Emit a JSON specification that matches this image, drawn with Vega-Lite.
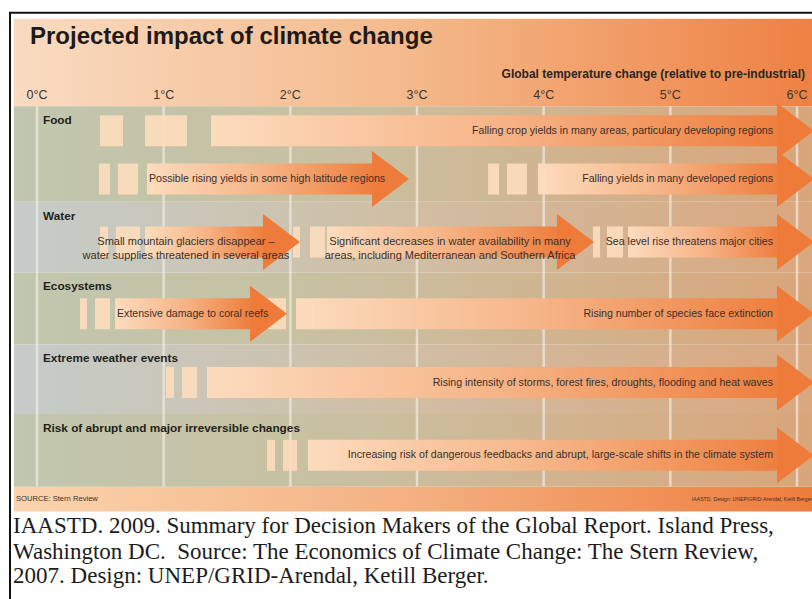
{
  "$schema": "https://vega.github.io/schema/vega-lite/v6.json",
  "width": 812,
  "height": 599,
  "autosize": {"type": "none"},
  "padding": 0,
  "background": "white",
  "config": {"view": {"stroke": null}, "font": "Liberation Sans"},
  "datasets": {
    "arrows": [
      {"cat": "Food", "lane": 128, "start": 1.374, "end": 5.842, "label": "Falling crop yields in many areas, particulary developing regions", "pos": "end"},
      {"cat": "Food", "lane": 177, "start": 0.868, "end": 2.645, "label": "Possible rising yields in some high latitude regions", "pos": "start"},
      {"cat": "Food", "lane": 177, "start": 3.955, "end": 5.842, "label": "Falling yields in many developed regions", "pos": "end"},
      {"cat": "Water", "lane": 241, "start": 0.853, "end": 1.784, "label": ["Small mountain glaciers disappear –", "water supplies threatened in several areas"], "pos": "center", "labelAt": 1.176},
      {"cat": "Water", "lane": 241, "start": 2.289, "end": 4.105, "label": ["Significant decreases in water availability in many", "areas, including Mediterranean and Southern Africa"], "pos": "center", "labelAt": 3.261},
      {"cat": "Water", "lane": 241, "start": 4.666, "end": 5.842, "label": "Sea level rise threatens major cities", "pos": "end"},
      {"cat": "Ecosystems", "lane": 314, "start": 0.616, "end": 1.682, "label": "Extensive damage to coral reefs", "pos": "start"},
      {"cat": "Ecosystems", "lane": 314, "start": 2.045, "end": 5.842, "label": "Rising number of species face extinction", "pos": "end"},
      {"cat": "Extreme weather events", "lane": 384, "start": 1.342, "end": 5.842, "label": "Rising intensity of storms, forest fires, droughts, flooding and heat waves", "pos": "end"},
      {"cat": "Risk of abrupt and major irreversible changes", "lane": 458, "start": 2.139, "end": 5.842, "label": "Increasing risk of dangerous feedbacks and abrupt, large-scale shifts in the climate system", "pos": "end"}
    ],
    "squares": [
      {"lane": 128, "start": 0.497, "end": 0.679},
      {"lane": 128, "start": 0.853, "end": 1.184},
      {"lane": 177, "start": 0.489, "end": 0.576},
      {"lane": 177, "start": 0.639, "end": 0.797},
      {"lane": 177, "start": 3.561, "end": 3.648},
      {"lane": 177, "start": 3.71, "end": 3.868},
      {"lane": 241, "start": 0.497, "end": 0.561},
      {"lane": 241, "start": 0.624, "end": 0.813},
      {"lane": 241, "start": 2.021, "end": 2.076},
      {"lane": 241, "start": 2.155, "end": 2.274},
      {"lane": 241, "start": 4.389, "end": 4.445},
      {"lane": 241, "start": 4.5, "end": 4.626},
      {"lane": 314, "start": 0.339, "end": 0.395},
      {"lane": 314, "start": 0.458, "end": 0.576},
      {"lane": 314, "start": 1.824, "end": 1.966},
      {"lane": 384, "start": 1.018, "end": 1.082},
      {"lane": 384, "start": 1.145, "end": 1.263},
      {"lane": 458, "start": 1.816, "end": 1.879},
      {"lane": 458, "start": 1.942, "end": 2.053}
    ],
    "bands": [
      {"cat": "Food", "top": 103, "bottom": 200, "tone": "green"},
      {"cat": "Water", "top": 200, "bottom": 272, "tone": "blue"},
      {"cat": "Ecosystems", "top": 272, "bottom": 345, "tone": "green"},
      {"cat": "Extreme weather events", "top": 345, "bottom": 416, "tone": "blue"},
      {"cat": "Risk of abrupt and major irreversible changes", "top": 416, "bottom": 490, "tone": "green"}
    ],
    "ticks": [
      {"t": 0, "label": "0°C"}, {"t": 1, "label": "1°C"}, {"t": 2, "label": "2°C"}, {"t": 3, "label": "3°C"},
      {"t": 4, "label": "4°C"}, {"t": 5, "label": "5°C"}, {"t": 6, "label": "6°C"}
    ],
    "caption": [
      {"line": 537, "text": "IAASTD. 2009. Summary for Decision Makers of the Global Report. Island Press,"},
      {"line": 563, "text": "Washington DC.\u00a0 Source: The Economics of Climate Change: The Stern Review,"},
      {"line": 588, "text": "2007. Design: UNEP/GRID-Arendal, Ketill Berger."}
    ]
  },
  "layer": [
    {
      "data": {"values": [{"part": "header"}]},
      "mark": {"type": "rect", "color": {"gradient": "linear", "x1": 0, "x2": 1, "y1": 0, "y2": 0, "stops": [{"offset": 0, "color": "#f9dbc1"}, {"offset": 0.5, "color": "#f4b98b"}, {"offset": 1, "color": "#ee8143"}]}},
      "encoding": {
        "x": {"datum": -0.182, "type": "quantitative", "scale": {"domain": [-0.2921, 6.1184], "nice": false, "zero": false}, "axis": null},
        "x2": {"datum": 6.1184},
        "y": {"datum": 14, "type": "quantitative", "scale": {"domain": [0, 599], "nice": false, "zero": false, "reverse": true}, "axis": null},
        "y2": {"datum": 103}
      }
    },
    {
      "data": {"values": [{"part": "footer"}]},
      "mark": {"type": "rect", "color": {"gradient": "linear", "x1": 0, "x2": 1, "y1": 0, "y2": 0, "stops": [{"offset": 0, "color": "#fad4ae"}, {"offset": 0.5, "color": "#f4b081"}, {"offset": 1, "color": "#ee7d3d"}]}},
      "encoding": {
        "x": {"datum": -0.182, "type": "quantitative", "axis": null},
        "x2": {"datum": 6.1184},
        "y": {"datum": 490, "type": "quantitative", "axis": null},
        "y2": {"datum": 515}
      }
    },
    {
      "data": {"name": "bands"},
      "transform": [{"filter": "datum.tone === 'green'"}],
      "mark": {"type": "rect", "color": {"gradient": "linear", "x1": 0, "x2": 1, "y1": 0, "y2": 0, "stops": [{"offset": 0, "color": "#c0c7ae"}, {"offset": 0.45, "color": "#cabf9f"}, {"offset": 1, "color": "#d9a57a"}]}},
      "encoding": {
        "x": {"datum": -0.182, "type": "quantitative", "axis": null},
        "x2": {"datum": 6.1184},
        "y": {"field": "top", "type": "quantitative", "axis": null},
        "y2": {"field": "bottom"}
      }
    },
    {
      "data": {"name": "bands"},
      "transform": [{"filter": "datum.tone === 'blue'"}],
      "mark": {"type": "rect", "color": {"gradient": "linear", "x1": 0, "x2": 1, "y1": 0, "y2": 0, "stops": [{"offset": 0, "color": "#c5ccc9"}, {"offset": 0.45, "color": "#cfc0a7"}, {"offset": 1, "color": "#daa77e"}]}},
      "encoding": {
        "x": {"datum": -0.182, "type": "quantitative", "axis": null},
        "x2": {"datum": 6.1184},
        "y": {"field": "top", "type": "quantitative", "axis": null},
        "y2": {"field": "bottom"}
      }
    },
    {
      "data": {"name": "ticks"},
      "mark": {"type": "rule", "color": "#f3ebe2", "opacity": 0.7, "strokeWidth": 2.5},
      "encoding": {
        "x": {"field": "t", "type": "quantitative", "axis": null},
        "y": {"datum": 103, "type": "quantitative", "axis": null},
        "y2": {"datum": 490}
      }
    },
    {
      "data": {"name": "ticks"},
      "mark": {"type": "text", "align": "center", "baseline": "middle", "fontSize": 12.5, "font": "Liberation Sans", "color": "#3a3530"},
      "encoding": {
        "x": {"field": "t", "type": "quantitative", "axis": null},
        "y": {"datum": 92, "type": "quantitative", "axis": null},
        "text": {"field": "label"}
      }
    },
    {
      "data": {"values": [{"text": "Global temperature change (relative to pre-industrial)"}]},
      "mark": {"type": "text", "align": "right", "baseline": "middle", "fontSize": 12, "fontWeight": "bold", "font": "Liberation Sans", "color": "#2a2522"},
      "encoding": {
        "x": {"datum": 6.063, "type": "quantitative", "axis": null},
        "y": {"datum": 70, "type": "quantitative", "axis": null},
        "text": {"field": "text"}
      }
    },
    {
      "data": {"name": "squares"},
      "mark": {"type": "bar", "height": 31, "color": "#fcdcbd", "opacity": 0.92},
      "encoding": {
        "x": {"field": "start", "type": "quantitative", "axis": null},
        "x2": {"field": "end"},
        "y": {"field": "lane", "type": "quantitative", "axis": null}
      }
    },
    {
      "data": {"name": "arrows"},
      "mark": {"type": "bar", "height": 31, "color": {"gradient": "linear", "x1": 0, "x2": 1, "y1": 0, "y2": 0, "stops": [{"offset": 0, "color": "#fcdcbe"}, {"offset": 0.5, "color": "#f6b588"}, {"offset": 1, "color": "#ee7f3f"}]}},
      "encoding": {
        "x": {"field": "start", "type": "quantitative", "axis": null},
        "x2": {"field": "end"},
        "y": {"field": "lane", "type": "quantitative", "axis": null}
      }
    },
    {
      "data": {"name": "arrows"},
      "mark": {"type": "point", "shape": "M 0 -1 L 1.32 0 L 0 1 Z", "filled": true, "size": 3136, "color": "#ee7b39", "opacity": 1, "strokeWidth": 0},
      "encoding": {
        "x": {"field": "end", "type": "quantitative", "axis": null},
        "y": {"field": "lane", "type": "quantitative", "axis": null}
      }
    },
    {
      "data": {"name": "arrows"},
      "transform": [{"filter": "datum.pos === 'end'"}],
      "mark": {"type": "text", "align": "right", "baseline": "middle", "dx": -4, "fontSize": 10.6, "font": "Liberation Sans", "color": "#3b2f29"},
      "encoding": {
        "x": {"field": "end", "type": "quantitative", "axis": null},
        "y": {"field": "lane", "type": "quantitative", "axis": null},
        "text": {"field": "label"}
      }
    },
    {
      "data": {"name": "arrows"},
      "transform": [{"filter": "datum.pos === 'start'"}],
      "mark": {"type": "text", "align": "left", "baseline": "middle", "dx": 2, "fontSize": 10.6, "font": "Liberation Sans", "color": "#3b2f29"},
      "encoding": {
        "x": {"field": "start", "type": "quantitative", "axis": null},
        "y": {"field": "lane", "type": "quantitative", "axis": null},
        "text": {"field": "label"}
      }
    },
    {
      "data": {"name": "arrows"},
      "transform": [{"filter": "datum.pos === 'center'"}],
      "mark": {"type": "text", "align": "center", "baseline": "middle", "lineHeight": 14.5, "fontSize": 11, "font": "Liberation Sans", "color": "#3b2f29"},
      "encoding": {
        "x": {"field": "labelAt", "type": "quantitative", "axis": null},
        "y": {"field": "lane", "type": "quantitative", "axis": null},
        "text": {"field": "label"}
      }
    },
    {
      "data": {"name": "bands"},
      "mark": {"type": "text", "align": "left", "baseline": "middle", "dy": 14, "fontSize": 11.8, "fontWeight": "bold", "font": "Liberation Sans", "color": "#231f1c"},
      "encoding": {
        "x": {"datum": 0.047, "type": "quantitative", "axis": null},
        "y": {"field": "top", "type": "quantitative", "axis": null},
        "text": {"field": "cat"}
      }
    },
    {
      "data": {"values": [{"text": "Projected impact of climate change"}]},
      "mark": {"type": "text", "align": "left", "baseline": "alphabetic", "fontSize": 24, "fontWeight": "bold", "font": "Liberation Sans", "color": "#1f1a17"},
      "encoding": {
        "x": {"datum": -0.0553, "type": "quantitative", "axis": null},
        "y": {"datum": 40, "type": "quantitative", "axis": null},
        "text": {"field": "text"}
      }
    },
    {
      "data": {"values": [{"text": "SOURCE: Stern Review"}]},
      "mark": {"type": "text", "align": "left", "baseline": "middle", "fontSize": 7.6, "font": "Liberation Sans", "color": "#3b2f29"},
      "encoding": {
        "x": {"datum": -0.166, "type": "quantitative", "axis": null},
        "y": {"datum": 502, "type": "quantitative", "axis": null},
        "text": {"field": "text"}
      }
    },
    {
      "data": {"values": [{"text": "IAASTD. Design: UNEP/GRID-Arendal, Ketill Berger"}]},
      "mark": {"type": "text", "align": "right", "baseline": "middle", "fontSize": 5.2, "font": "Liberation Sans", "color": "#3b2f29"},
      "encoding": {
        "x": {"datum": 6.1184, "type": "quantitative", "axis": null},
        "y": {"datum": 502, "type": "quantitative", "axis": null},
        "text": {"field": "text"}
      }
    },
    {
      "data": {"name": "caption"},
      "mark": {"type": "text", "align": "left", "baseline": "alphabetic", "fontSize": 23, "font": "Liberation Serif", "color": "#1c1c1c"},
      "encoding": {
        "x": {"datum": -0.189, "type": "quantitative", "axis": null},
        "y": {"field": "line", "type": "quantitative", "axis": null},
        "text": {"field": "text"}
      }
    },
    {
      "data": {"values": [{"part": "frame"}]},
      "mark": {"type": "rect", "fill": null, "fillOpacity": 0, "stroke": "#111111", "strokeWidth": 2},
      "encoding": {
        "x": {"datum": -0.213, "type": "quantitative", "axis": null},
        "x2": {"datum": 6.3},
        "y": {"datum": 8, "type": "quantitative", "axis": null},
        "y2": {"datum": 640}
      }
    }
  ]
}
